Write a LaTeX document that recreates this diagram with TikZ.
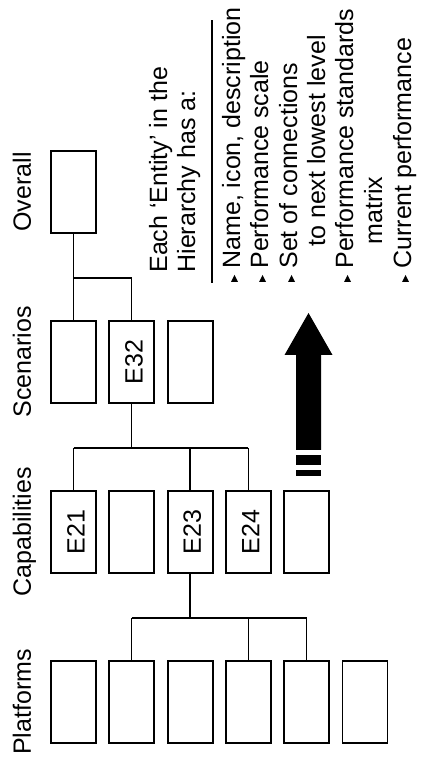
\documentclass[tikz,border=0pt]{standalone}
\usepackage{fontspec}
\setmainfont{Liberation Sans}
\usepackage{tikz}

\tikzset{
  entity/.style={draw, line width=0.9pt, minimum width=41pt, minimum height=22.5pt,
    inner sep=0pt, text height=1.1em},
  level/.style={anchor=base, inner sep=0pt},
  note/.style={anchor=base west, inner sep=0pt},
  link/.style={line width=0.65pt},
}

\begin{document}
\begin{tikzpicture}[x=0.5pt, y=0.5pt, rotate=90, transform shape,
    font=\fontsize{12.5}{14.3}\selectfont]

    \useasboundingbox (0,0) rectangle (757,-422);

    % level titles
    \node[level] (Plat_lbl) at (55,-31) {Platforms};
    \node[level] (Cap_lbl) at (225,-31) {Capabilities};
    \node[level] (Scen_lbl) at (395,-31) {Scenarios};
    \node[level] (Over_lbl) at (565,-31) {Overall};

    % platforms
    \node[entity] (Plat_1) at (55,-73.5) {};
    \node[entity] (Plat_2) at (55,-131.8) {};
    \node[entity] (Plat_3) at (55,-190.1) {};
    \node[entity] (Plat_4) at (55,-248.4) {};
    \node[entity] (Plat_5) at (55,-306.7) {};
    \node[entity] (Plat_6) at (55,-365) {};

    % capabilities
    \node[entity] (Cap_1) at (225,-73.5) {E21};
    \node[entity] (Cap_2) at (225,-131.8) {};
    \node[entity] (Cap_3) at (225,-190.1) {E23};
    \node[entity] (Cap_4) at (225,-248.4) {E24};
    \node[entity] (Cap_5) at (225,-306.7) {};

    % scenarios
    \node[entity] (Scen_1) at (395,-73.5) {};
    \node[entity] (Scen_2) at (395,-131.8) {E32};
    \node[entity] (Scen_3) at (395,-190.1) {};

    % overall
    \node[entity] (Over) at (565,-73.5) {};

    % overall -> scenarios
    \path (Over.west) ++(-44,0) coordinate (Bus_3);
    \path (Over.west) edge[link] (Scen_1.east);
    \path (Bus_3) edge[link] (Bus_3 |- Scen_2.east);
    \path (Bus_3 |- Scen_2.east) edge[link] (Scen_2.east);

    % E32 -> capabilities
    \path (Scen_2.west) ++(-44,0) coordinate (Bus_2);
    \path (Scen_2.west) edge[link] (Bus_2);
    \path (Bus_2 |- Cap_1.east) edge[link] (Bus_2 |- Cap_4.east);
    \path (Bus_2 |- Cap_1.east) edge[link] (Cap_1.east);
    \path (Bus_2 |- Cap_3.east) edge[link] (Cap_3.east);
    \path (Bus_2 |- Cap_4.east) edge[link] (Cap_4.east);

    % E23 -> platforms
    \path (Cap_3.west) ++(-44,0) coordinate (Bus_1);
    \path (Cap_3.west) edge[link] (Bus_1);
    \path (Bus_1 |- Plat_2.east) edge[link] (Bus_1 |- Plat_5.east);
    \path (Bus_1 |- Plat_2.east) edge[link] (Plat_2.east);
    \path (Bus_1 |- Plat_4.east) edge[link] (Plat_4.east);
    \path (Bus_1 |- Plat_5.east) edge[link] (Plat_5.east);

    % big arrow with broken tail
    \fill (307,-296) -- (402,-296) -- (402,-284.5) -- (444,-308.5)
        -- (402,-332.5) -- (402,-321) -- (307,-321) -- cycle;
    \fill (292,-296) rectangle (302,-321);
    \fill (281,-296) rectangle (287,-321);

    % entity description
    \node[note] (Head_1) at (484,-167) {Each `Entity' in the};
    \node[note] (Head_2) at (484,-195) {Hierarchy has a:};
    \draw[line width=0.75pt] (474,-212) -- (737,-212);

    \node[note] (Item_1) at (488,-240) {Name, icon, description};
    \node[note] (Item_2) at (488,-268) {Performance scale};
    \node[note] (Item_3) at (488,-297) {Set of connections};
    \node[note] (Item_3b) at (510,-325) {to next lowest level};
    \node[note] (Item_4) at (488,-353) {Performance standards};
    \node[note] (Item_4b) at (512,-382) {matrix};
    \node[note] (Item_5) at (488,-411) {Current performance};

    \fill (Item_1.base west) ++(-13,2) -- ++(0,7) -- ++(7,-3.5) -- cycle;
    \fill (Item_2.base west) ++(-13,2) -- ++(0,7) -- ++(7,-3.5) -- cycle;
    \fill (Item_3.base west) ++(-13,2) -- ++(0,7) -- ++(7,-3.5) -- cycle;
    \fill (Item_4.base west) ++(-13,2) -- ++(0,7) -- ++(7,-3.5) -- cycle;
    \fill (Item_5.base west) ++(-13,2) -- ++(0,7) -- ++(7,-3.5) -- cycle;

\end{tikzpicture}
\end{document}
